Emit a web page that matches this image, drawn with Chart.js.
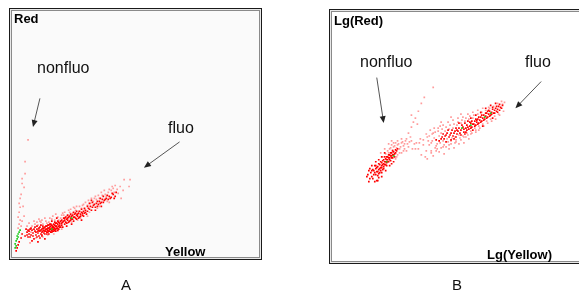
<!DOCTYPE html>
<html>
<head>
<meta charset="utf-8">
<script src="https://cdn.jsdelivr.net/npm/chart.js@4"></script>
<style>
body{margin:0;width:579px;height:291px;background:#fff;position:relative;overflow:hidden;font-family:"Liberation Sans",Arial,sans-serif}
.marco{position:absolute;border:1px solid #1a1a1a;box-shadow:inset 0 0 0 1px #e8e8e8, inset 0 0 0 2px #8a8a8a;box-sizing:border-box}
#marcoA{left:9px;top:8px;width:253px;height:252px;background:#fafafa}
#marcoB{left:329px;top:9px;width:262px;height:255px;background:#fff}
canvas{position:absolute}
#grafA{left:11px;top:10px}
#grafB{left:331px;top:11px}
.eje{position:absolute;font:bold 13px/13px "Liberation Sans",Arial,sans-serif;color:#000}
.nota{position:absolute;font:16px/16px "Liberation Sans",Arial,sans-serif;color:#111}
.panel{position:absolute;font:15px/15px "Liberation Sans",Arial,sans-serif;color:#111}
</style>
</head>
<body>
<div class="marco" id="marcoA"></div>
<div class="marco" id="marcoB"></div>
<canvas id="grafA" width="248" height="247"></canvas>
<canvas id="grafB" width="248" height="250"></canvas>

<div class="eje" style="left:14px;top:12px">Red</div>
<div class="eje" style="left:165px;top:245px">Yellow</div>
<div class="nota" style="left:37px;top:60px">nonfluo</div>
<div class="nota" style="left:168px;top:120px">fluo</div>

<div class="eje" style="left:334px;top:14px">Lg(Red)</div>
<div class="eje" style="left:487px;top:248px">Lg(Yellow)</div>
<div class="nota" style="left:360px;top:54px">nonfluo</div>
<div class="nota" style="left:525px;top:54px">fluo</div>

<div class="panel" style="left:121px;top:277px">A</div>
<div class="panel" style="left:452px;top:277px">B</div>

<script>
// Panel A: Yellow (x) vs Red (y), unidades arbitrarias
const aRojo = [
  [14,27],[16,26],[18,27],[20,26],[22,27],[15,24],[17,22],[19,21],[13,20],[16,19],
  [4,5],[5,8],[6,11],[7,14],[9,18],[10,22],
  [24,24],[25,27],[26,23],[27,26],[28,25],[28,29],[29,22],[30,27],[30,24],[31,28],
  [32,26],[32,23],[33,29],[33,25],[34,27],[35,24],[35,30],[36,26],[36,28],[37,25],
  [37,31],[38,27],[38,29],[39,24],[39,32],[40,28],[40,26],[41,30],[41,27],[42,29],
  [42,25],[43,31],[43,28],[44,27],[44,33],[45,30],[46,28],[46,32],[47,34],[48,31],[48,29],
  [22,17],[25,19],[28,18],[30,20],[33,17],[26,14],[20,15],
  [50,33],[50,36],[52,35],[53,38],[54,34],[55,37],[56,36],[57,39],[58,35],[59,38],
  [60,40],[61,37],[62,39],[63,42],[64,38],[65,41],[66,40],[67,43],[68,39],[69,42],
  [70,44],[71,41],[72,45],[73,43],[74,46],[75,42],
  [77,48],[79,50],[80,46],[82,51],[84,49],[85,53],[87,52],[88,55],[90,54],[91,57],
  [93,56],[95,58],[97,57],[98,60],[100,59],[102,62],[104,60],
  [55,30],[60,32],[45,38],[40,35],[70,36],[80,56],[90,50],
  [15,21],[17,25],[18,19],[19,28],[21,23],[21,20],[23,25],[23,29],[24,21],[25,30],
  [26,25],[27,20],[27,28],[29,26],[29,31],[30,21],[31,25],[31,30],
  [32,28],[33,22],[34,30],[34,25],[35,27],[35,22],[36,31],[36,24],[37,28],[37,22],
  [38,25],[38,32],[39,27],[39,30],[40,24],[40,31],[41,29],[41,25],[42,32],[42,27],
  [43,26],[43,34],[44,30],[44,25],[45,28],[45,33],[46,26],[46,35],[47,30],[47,27],
  [48,33],[49,29],[49,35],[50,31],
  [51,34],[51,29],[52,38],[53,32],[53,36],[54,39],[55,33],[56,38],[56,41],[57,34],
  [58,40],[59,36],[59,42],[60,37],[61,41],[62,35],[62,44],[63,39],[64,43],[65,37],
  [65,45],[66,42],[67,38],[68,45],[69,40],[70,47],[71,43],[72,40],[73,48],[74,44],
  [76,45],[76,50],[78,47],[78,53],[81,49],[81,54],[83,52],[84,46],[86,55],[86,50],
  [89,53],[89,58],[92,54],[92,60],[94,57],[96,61],[99,58],[101,63],[103,58],[105,64]
];
const aRosa = [
  [16,117],[13,95],[13,83],[10,78],[10,73],[12,69],[9,62],[8,58],[7,53],[8,49],
  [7,44],[6,39],[8,36],[7,32],[9,30],[6,28],
  [20,30],[23,32],[26,31],[29,34],[31,32],[34,35],[37,34],[40,37],[43,36],[46,39],
  [49,38],[52,41],[55,40],[58,44],[61,43],[64,46],[67,45],[70,48],[73,47],[76,51],
  [79,53],[82,55],[85,57],[88,58],[91,61],[94,62],[97,64],[100,66],[103,64],[106,67],
  [113,77],[119,77],[118,70],[102,68],[96,55],[86,48],[76,40],[66,36],[56,33],[46,25],
  [36,21],[24,18],[18,13],[62,49],[72,52],[28,35],[110,58],[84,60],
  [17,33],[19,24],[22,35],[25,34],[27,37],[30,36],[33,38],[35,33],[38,38],[41,40],
  [44,42],[47,36],[50,41],[51,43],[53,44],[57,46],[59,47],[63,48],[65,50],[68,50],
  [71,51],[74,54],[77,56],[80,58],[83,58],[87,61],[90,64],[93,66],[95,60],[98,67],
  [101,70],[104,71],[107,63],[109,70],[112,66],[60,34],[69,38],[78,44],[88,50],[98,54],
  [42,22],[50,27],[31,19],[15,30],[12,40],[11,50],[10,35]
];
const aVerde = [[3,12],[4,15],[5,17],[5,20],[6,22],[7,24],[4,10],[6,19],[8,26],[3,8],[40,27],[60,38]];

// Panel B: Lg(Yellow) vs Lg(Red)
const bRojo = [
  [42,90],[44,92],[45,89],[46,94],[47,91],[48,96],[49,93],[50,98],[50,95],[51,100],
  [52,97],[53,99],[54,102],[54,96],[55,101],[56,104],[56,99],[57,103],[58,106],[58,101],
  [59,105],[60,108],[60,103],[61,106],[62,109],[63,107],[64,111],[65,110],[48,88],[52,92],
  [44,86],[40,84],[39,88],[46,85],[55,95],[43,95],[36,86],[38,82],[45,80],
  [41,91],[43,88],[44,95],[45,93],[46,89],[47,97],[47,87],[48,92],[49,99],[49,90],
  [50,93],[51,96],[51,91],[52,101],[52,94],[53,96],[53,104],[54,99],[55,98],[55,104],
  [56,101],[57,99],[57,106],[58,103],[59,100],[59,108],[60,105],[61,103],[61,110],[62,106],
  [63,104],[64,108],[66,112],[42,86],[40,90],[37,90],[35,84],[41,82],[47,83],[50,88],
  [38,92],[40,95],[44,99],[47,101],[50,104],[53,108],[46,80],[50,84],[54,90],[58,95],
  [62,99],[60,97],[43,79],[37,79],
  [130,131],[132,134],[133,129],[135,133],[136,136],[138,132],[139,135],[140,138],[141,134],
  [143,137],[144,140],[145,136],[146,139],[147,142],[148,138],[149,141],[150,144],[151,140],
  [152,143],[153,146],[154,142],[155,145],[156,148],[157,144],[158,147],[159,150],[160,146],
  [161,149],[162,152],[163,148],[164,151],[165,153],[166,150],[167,152],[168,155],[169,151],
  [170,154],[115,126],[118,124],[120,128],[122,125],[124,130],[126,127],[128,133],[110,122],
  [112,127],[105,121],[117,131],[123,122],[134,127],[142,131],[137,140],
  [108,120],[111,124],[113,122],[116,128],[119,126],[121,131],[123,128],[125,133],[127,130],
  [129,128],[131,136],[133,132],[134,138],[136,131],[137,134],[139,139],[140,133],[142,137],
  [144,135],[145,142],[147,137],[148,144],[150,139],[151,146],[153,141],[155,148],[156,143],
  [158,151],[159,145],[161,147],[162,154],[164,148],[166,155],[167,149],[169,157],[171,153],
  [172,156],[157,150],[146,141],[141,140],[126,131],[114,125],
  [120,121],[125,124],[130,126],[135,129],[140,143],[145,146],[150,149],[155,153],[160,156],
  [165,158],[115,119],[128,138],[152,135],[162,143]
];
const bRosa = [
  [58,112],[62,114],[66,116],[70,118],[64,118],[60,116],[68,112],[72,115],[74,120],[76,117],
  [57,108],[65,104],[70,108],[75,110],[81,112],
  [77,128],[80,134],[82,139],[84,143],[87,150],[90,158],[93,164],[80,146],[86,137],[102,174],
  [84,112],[88,118],[92,121],[95,110],[98,116],[101,120],[104,113],[96,124],[90,106],
  [94,104],[96,102],[102,105],
  [100,118],[103,123],[106,117],[108,125],[110,128],[112,120],[114,130],[116,122],[118,132],
  [120,120],[122,133],[124,124],[126,136],[128,126],[130,138],[132,125],[134,140],[136,128],
  [138,142],[140,130],[144,133],[148,135],[152,137],[156,140],[160,142],[164,145],[168,147],
  [172,157],[174,159],[171,160],[158,154],[150,148],[142,143],[106,112],[112,114],[118,116],
  [124,118],[95,127],[99,131],[103,133],[109,135],
  [56,110],[59,113],[61,111],[63,115],[65,113],[67,117],[69,114],[71,119],[73,117],[66,120],
  [62,118],[70,122],[75,122],[78,119],[73,112],[68,108],[64,102],[54,107],[51,104],
  [97,120],[98,125],[101,127],[104,129],[105,115],[107,130],[109,118],[111,132],[113,116],
  [115,134],[117,119],[119,136],[121,123],[123,137],[125,121],[127,139],[129,123],[131,141],
  [133,124],[135,143],[137,126],[139,145],[141,128],[143,146],[145,131],[147,147],[149,133],
  [151,149],[153,135],[155,151],[157,138],[159,153],[161,140],[163,155],[165,142],[167,158],
  [169,146],[173,150],[92,116],[89,122],[85,118],[87,112],[100,110],
  [100,108],[105,110],[110,113],[115,114],[120,117],[125,119],[130,121],[135,124],[140,127],
  [145,129],[108,109],[118,112],[128,117],[138,122],[148,131],[113,107],[123,113],[133,118],
  [102,128],[107,133],[112,136],[117,139],[122,141],[127,143],[132,144],[137,147],[142,149],
  [147,151],[152,153],[110,139],[120,144],[130,147],
  [66,106],[72,110],[77,114],[80,120],[60,120],[57,117],[53,112],[49,108],[83,117],[79,124]
];
const bVerde = [[62,105],[55,99],[131,133],[154,144],[160,148],[140,136]];

// flechas de las notas, en unidades de cada grafica: [x1, y1, x2, y2]
const flechasA = [[28,159,21,130],[169,115,133,89]];
const flechasB = [[45,184,52,138],[211,180,185,153]];

const pluginFlechas = {
  id: 'flechas',
  afterDraw(chart, args, opts) {
    const ctx = chart.ctx;
    const x = chart.scales.x;
    const y = chart.scales.y;
    ctx.save();
    ctx.strokeStyle = '#555';
    ctx.fillStyle = '#222';
    ctx.lineWidth = 1;
    opts.lista.forEach(([x1, y1, x2, y2]) => {
      const px1 = x.getPixelForValue(x1), py1 = y.getPixelForValue(y1);
      const px2 = x.getPixelForValue(x2), py2 = y.getPixelForValue(y2);
      const ang = Math.atan2(py2 - py1, px2 - px1);
      ctx.beginPath();
      ctx.moveTo(px1, py1);
      ctx.lineTo(px2 - 4 * Math.cos(ang), py2 - 4 * Math.sin(ang));
      ctx.stroke();
      ctx.beginPath();
      ctx.moveTo(px2, py2);
      ctx.lineTo(px2 - 7 * Math.cos(ang) + 3 * Math.sin(ang), py2 - 7 * Math.sin(ang) - 3 * Math.cos(ang));
      ctx.lineTo(px2 - 7 * Math.cos(ang) - 3 * Math.sin(ang), py2 - 7 * Math.sin(ang) + 3 * Math.cos(ang));
      ctx.closePath();
      ctx.fill();
    });
    ctx.restore();
  }
};

function serie(datos, color) {
  return {
    data: datos.map(p => ({ x: p[0], y: p[1] })),
    backgroundColor: color,
    borderWidth: 0,
    pointStyle: 'rect',
    pointRadius: 1.2,
    pointHoverRadius: 1.2
  };
}

function crearGrafica(id, verde, rojo, rosa, flechas, maxX, maxY) {
  const ctx = document.getElementById(id).getContext('2d');
  return new Chart(ctx, {
    type: 'scatter',
    data: {
      datasets: [
        serie(verde, '#22cc22'),
        serie(rojo, '#ff0000'),
        serie(rosa, '#ff9c9c')
      ]
    },
    options: {
      responsive: false,
      devicePixelRatio: 1,
      animation: false,
      layout: { padding: 0 },
      scales: {
        x: { type: 'linear', min: 0, max: maxX, display: false },
        y: { type: 'linear', min: 0, max: maxY, display: false }
      },
      plugins: {
        legend: { display: false },
        tooltip: { enabled: false },
        flechas: { lista: flechas }
      }
    },
    plugins: [pluginFlechas]
  });
}

crearGrafica('grafA', aVerde, aRojo, aRosa, flechasA, 248, 247);
crearGrafica('grafB', bVerde, bRojo, bRosa, flechasB, 248, 250);
</script>
</body>
</html>
